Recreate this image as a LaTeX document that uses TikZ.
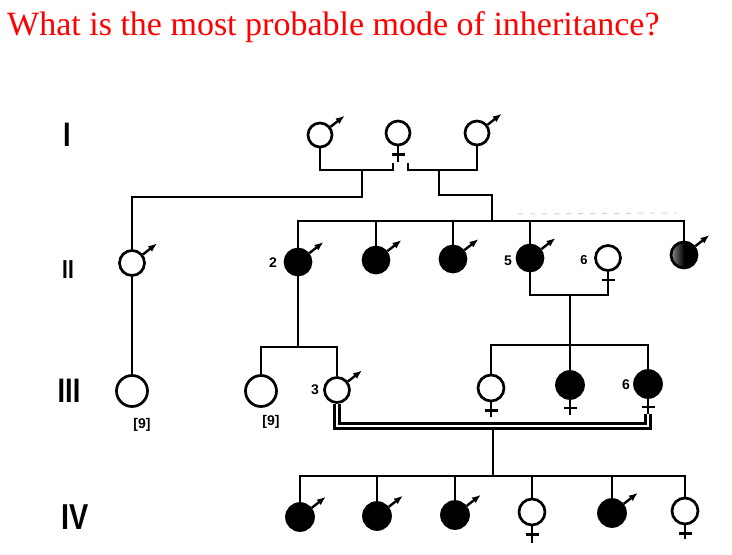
\documentclass[tikz,border=0pt]{standalone}
\usepackage{fontspec}
\setmainfont{Liberation Serif}
\newfontfamily\labfont{Liberation Sans}
\usetikzlibrary{arrows.meta}
\begin{document}
\begin{tikzpicture}[x=1pt,y=-1pt,
  ln/.style={line width=2.7pt, line cap=butt, line join=miter},
  ind/.style={circle, draw, line width=2.7pt, inner sep=0pt, minimum size=#1},
  aff/.style={ind=#1, fill=black},
  una/.style={ind=#1, fill=white},
  mk/.style={line width=2.4pt, -{Latex[length=9pt,width=7pt]}},
  num/.style={inner sep=0pt, font=\labfont\bfseries\fontsize{14}{14}\selectfont},
  gen/.style={inner sep=0pt, font=\labfont\bfseries\fontsize{#1}{#1}\selectfont},
  dbl/.style={double, line width=2.4pt, double distance=2.6pt, line join=miter},
]
\useasboundingbox (0,0) rectangle (732,555);

% title
\node[anchor=base west, text=red, inner sep=0pt, font=\fontsize{34}{36}\selectfont] (title) at (7,35)
  {What is the most probable mode of inheritance?};

% generation labels
\node[gen=34, xscale=0.8] (gI) at (67,135) {I};
\node[gen=26, xscale=0.8] (gII) at (68,270) {II};
\node[gen=34, xscale=0.8] (gIII) at (69,391) {III};
\node[gen=36, xscale=0.8] (gIV) at (75,517) {IV};

% Generation I
\node[una=24] (I1) at (320,135) {};
\node[una=24] (I2) at (398,133) {};
\node[una=24] (I3) at (477,133) {};

% Generation II
\node[una=25] (II1) at (132,263) {};
\node[aff=26] (II2) at (298,262) {};
\node[aff=26] (II3) at (376,260) {};
\node[aff=26] (II4) at (453,259) {};
\node[aff=26] (II5) at (530,258) {};
\node[una=25] (II6) at (608,258) {};
\node[ind=26, left color=black!45, right color=black, middle color=black] (II7) at (684,255) {};

% Generation III
\node[una=31] (III1) at (132,391) {};
\node[una=31] (III2) at (261,391) {};
\node[una=25] (III3) at (337,390) {};
\node[una=26] (III4) at (491,388) {};
\node[aff=27] (III5) at (570,385) {};
\node[aff=27] (III6) at (648,384) {};

% Generation IV
\node[aff=27] (IV1) at (300,517) {};
\node[aff=27] (IV2) at (377,516) {};
\node[aff=27] (IV3) at (455,515) {};
\node[una=26] (IV4) at (532,512) {};
\node[aff=27] (IV5) at (612,513) {};
\node[una=26] (IV6) at (685,511) {};

% male symbols
\foreach \n in {I1,I3,II1,II2,II3,II4,II5,II7,III3,IV1,IV2,IV3,IV5}
  \draw[mk] (\n.38) -- ++(38:18pt);

% female symbols
\foreach \n/\l in {I2/16,II6/16,III4/15,III5/15,III6/15,IV4/17,IV6/14}{
  \draw[ln] (\n.south) -- ++(0,\l) coordinate (\n-x);
  \draw[ln] (\n.south) ++(-6.5,8) -- ++(13,0);
}

% labels
\node[num] (n2) at (273,263) {2};
\node[num] (n5) at (508,261) {5};
\node[num, font=\labfont\bfseries\fontsize{13}{13}\selectfont] (n6a) at (584,260) {6};
\node[num] (n3) at (315,390) {3};
\node[num] (n6b) at (626,385) {6};
\node[num] (k9a) at (142,425) {[9]};
\node[num] (k9b) at (271,422) {[9]};

% Generation I matings
\coordinate (mL) at (393,163);
\coordinate (mLb) at (393,170);
\coordinate (mR) at (408,163);
\coordinate (mRb) at (408,170);
\coordinate (d1) at (362,170);
\coordinate (k1) at (362,197);
\coordinate (d2) at (439,170);
\coordinate (k2) at (492,195);
\coordinate (s2) at (492,221);
\draw[ln] (I1.south) |- (mLb) -- (mL);
\draw[ln] (I3.south) |- (mRb) -- (mR);
\draw[ln] (d1) -- (k1) -| (II1.north);
\draw[ln] (d2) |- (k2) -- (s2);

% Generation II sibship
\draw[ln] (II2.north) |- (s2 -| II7) -- (II7.north);
\foreach \n in {II3,II4,II5}
  \draw[ln] (\n.north) -- (\n.north |- s2);

% faint scan marks
\coordinate (fd1) at (518,214);
\coordinate (fd2) at (676,213);
\draw[black!18, line width=1pt, dash pattern=on 5pt off 7pt] (fd1) -- (fd2);

% II-5 x II-6
\coordinate (m2) at (570,295);
\coordinate (s3) at (570,345);
\draw[ln] (II5.south) |- (m2) -| (II6-x);
\draw[ln] (m2) -- (s3);
\draw[ln] (III4.north) |- (s3) -| (III6.north);
\draw[ln] (s3) -- (III5.north);

% II-1 and II-2 lines
\draw[ln] (II1.south) -- (III1.north);
\coordinate (t3) at (298,347);
\draw[ln] (II2.south) -- (t3);
\draw[ln] (III2.north) |- (t3) -| (III3.north);

% consanguineous mating III-3 x III-6
\coordinate (cR) at (648,426);
\draw[dbl] (III3.south) |- (cR) -- (III6-x);

% Generation IV
\coordinate (d4) at (493,429);
\coordinate (s4) at (493,476);
\draw[ln] (d4) -- (s4);
\draw[ln] (IV1.north) |- (s4) -| (IV6.north);
\foreach \n in {IV2,IV3,IV4,IV5}
  \draw[ln] (\n.north) -- (\n.north |- s4);
\end{tikzpicture}
\end{document}
